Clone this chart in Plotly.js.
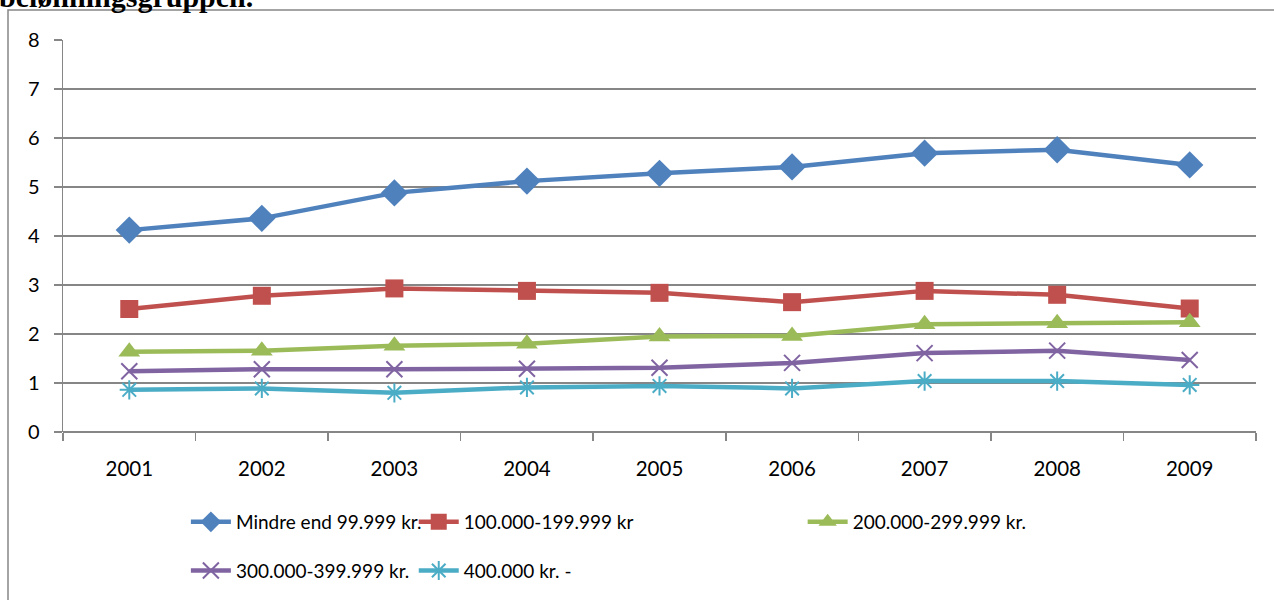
<!DOCTYPE html>
<html>
<head>
<meta charset="utf-8">
<script src="https://cdn.plot.ly/plotly-3.0.1.min.js"></script>
<style>html,body{margin:0;padding:0;background:#fff;}#chart{width:1274px;height:600px;}</style>
</head>
<body>
<div id="chart"></div>
<script>
const years = ["2001","2002","2003","2004","2005","2006","2007","2008","2009"];
const seriesNames = ["Mindre end 99.999 kr.","100.000-199.999 kr","200.000-299.999 kr.","300.000-399.999 kr.","400.000 kr. -"];
const mindre = [4.12, 4.36, 4.88, 5.12, 5.28, 5.41, 5.69, 5.76, 5.45];
const s100 = [2.51, 2.78, 2.93, 2.88, 2.84, 2.65, 2.88, 2.80, 2.52];
const s200 = [1.64, 1.66, 1.76, 1.80, 1.95, 1.96, 2.20, 2.22, 2.24];
const s300 = [1.24, 1.28, 1.28, 1.29, 1.31, 1.41, 1.61, 1.66, 1.47];
const s400 = [0.86, 0.89, 0.80, 0.91, 0.94, 0.89, 1.04, 1.04, 0.96];
const yTicks = [0,1,2,3,4,5,6,7,8];
const titleFragment = "belønningsgruppen.";

const colors = ["#4F81BD","#C0504D","#9BBB59","#8064A2","#4BACC6"];
const FONT = "Lato, 'Open Sans', sans-serif";

function tr(y, i, symbol, size, legend, extra) {
  const m = {symbol: symbol, size: size, color: colors[i], line: {color: colors[i], width: extra ? 2 : 0}};
  return {
    type: "scatter", mode: "lines+markers", x: years, y: y, name: seriesNames[i],
    line: {color: colors[i], width: 4.5}, marker: m, legend: legend, legendgroup: "g" + i,
    cliponaxis: false
  };
}

const data = [
  tr(mindre, 0, "diamond", 21, "legend", false),
  tr(s100, 1, "square", 18, "legend2", false),
  tr(s200, 2, "triangle-up", 19, "legend3", false),
  tr(s300, 3, "x-thin-open", 16, "legend", true),
  tr(s400, 4, "asterisk-open", 16, "legend2", true)
];

const legBase = {
  orientation: "v", bgcolor: "rgba(0,0,0,0)", font: {family: FONT, size: 19, color: "#000"},
  tracegroupgap: 21, yanchor: "top", xanchor: "left", itemwidth: 40
};

const layout = {
  width: 1274, height: 600,
  margin: {l: 63, r: 18, t: 40, b: 168, autoexpand: false},
  paper_bgcolor: "#fff", plot_bgcolor: "#fff",
  font: {family: FONT, size: 19, color: "#000"},
  showlegend: true,
  xaxis: {
    type: "category", showgrid: false, zeroline: false,
    showline: false, ticks: "outside", ticklen: 8, tickwidth: 1.5, tickcolor: "#868686",
    tickson: "boundaries", ticklabelstandoff: 22,
    tickfont: {family: FONT, size: 20.5, color: "#000"},
    range: [-0.5, 8.5]
  },
  yaxis: {
    range: [0, 8], tickvals: yTicks, ticktext: yTicks.map(String),
    showgrid: true, gridcolor: "#868686", gridwidth: 1.5,
    zeroline: true, zerolinecolor: "#868686", zerolinewidth: 1.5,
    showline: true, linecolor: "#868686", linewidth: 1.5,
    ticks: "outside", ticklen: 8, tickwidth: 1.5, tickcolor: "#868686",
    ticklabelstandoff: 10,
    tickfont: {family: FONT, size: 20, color: "#000"}
  },
  legend: Object.assign({}, legBase, {x: 0.103, y: -0.181}),
  legend2: Object.assign({}, legBase, {x: 0.294, y: -0.181}),
  legend3: Object.assign({}, legBase, {x: 0.62, y: -0.181}),
  shapes: [{
    type: "rect", xref: "paper", yref: "paper",
    x0: (8 - 63) / 1193, x1: (1290 - 63) / 1193,
    y0: -(620 - 432) / 392, y1: 1 + (40 - 10) / 392,
    line: {color: "#868686", width: 1.5}, fillcolor: "rgba(0,0,0,0)", layer: "below"
  }],
  annotations: [{
    text: "<b>" + titleFragment + "</b>", xref: "paper", yref: "paper",
    x: (-3 - 63) / 1193, y: 1 + (40 - 15) / 392, xanchor: "left", yanchor: "bottom",
    showarrow: false, font: {family: "'Liberation Serif', 'DejaVu Serif', serif", size: 30, color: "#000"}
  }]
};

Plotly.newPlot("chart", data, layout, {displayModeBar: false, staticPlot: true});
</script>
</body>
</html>
